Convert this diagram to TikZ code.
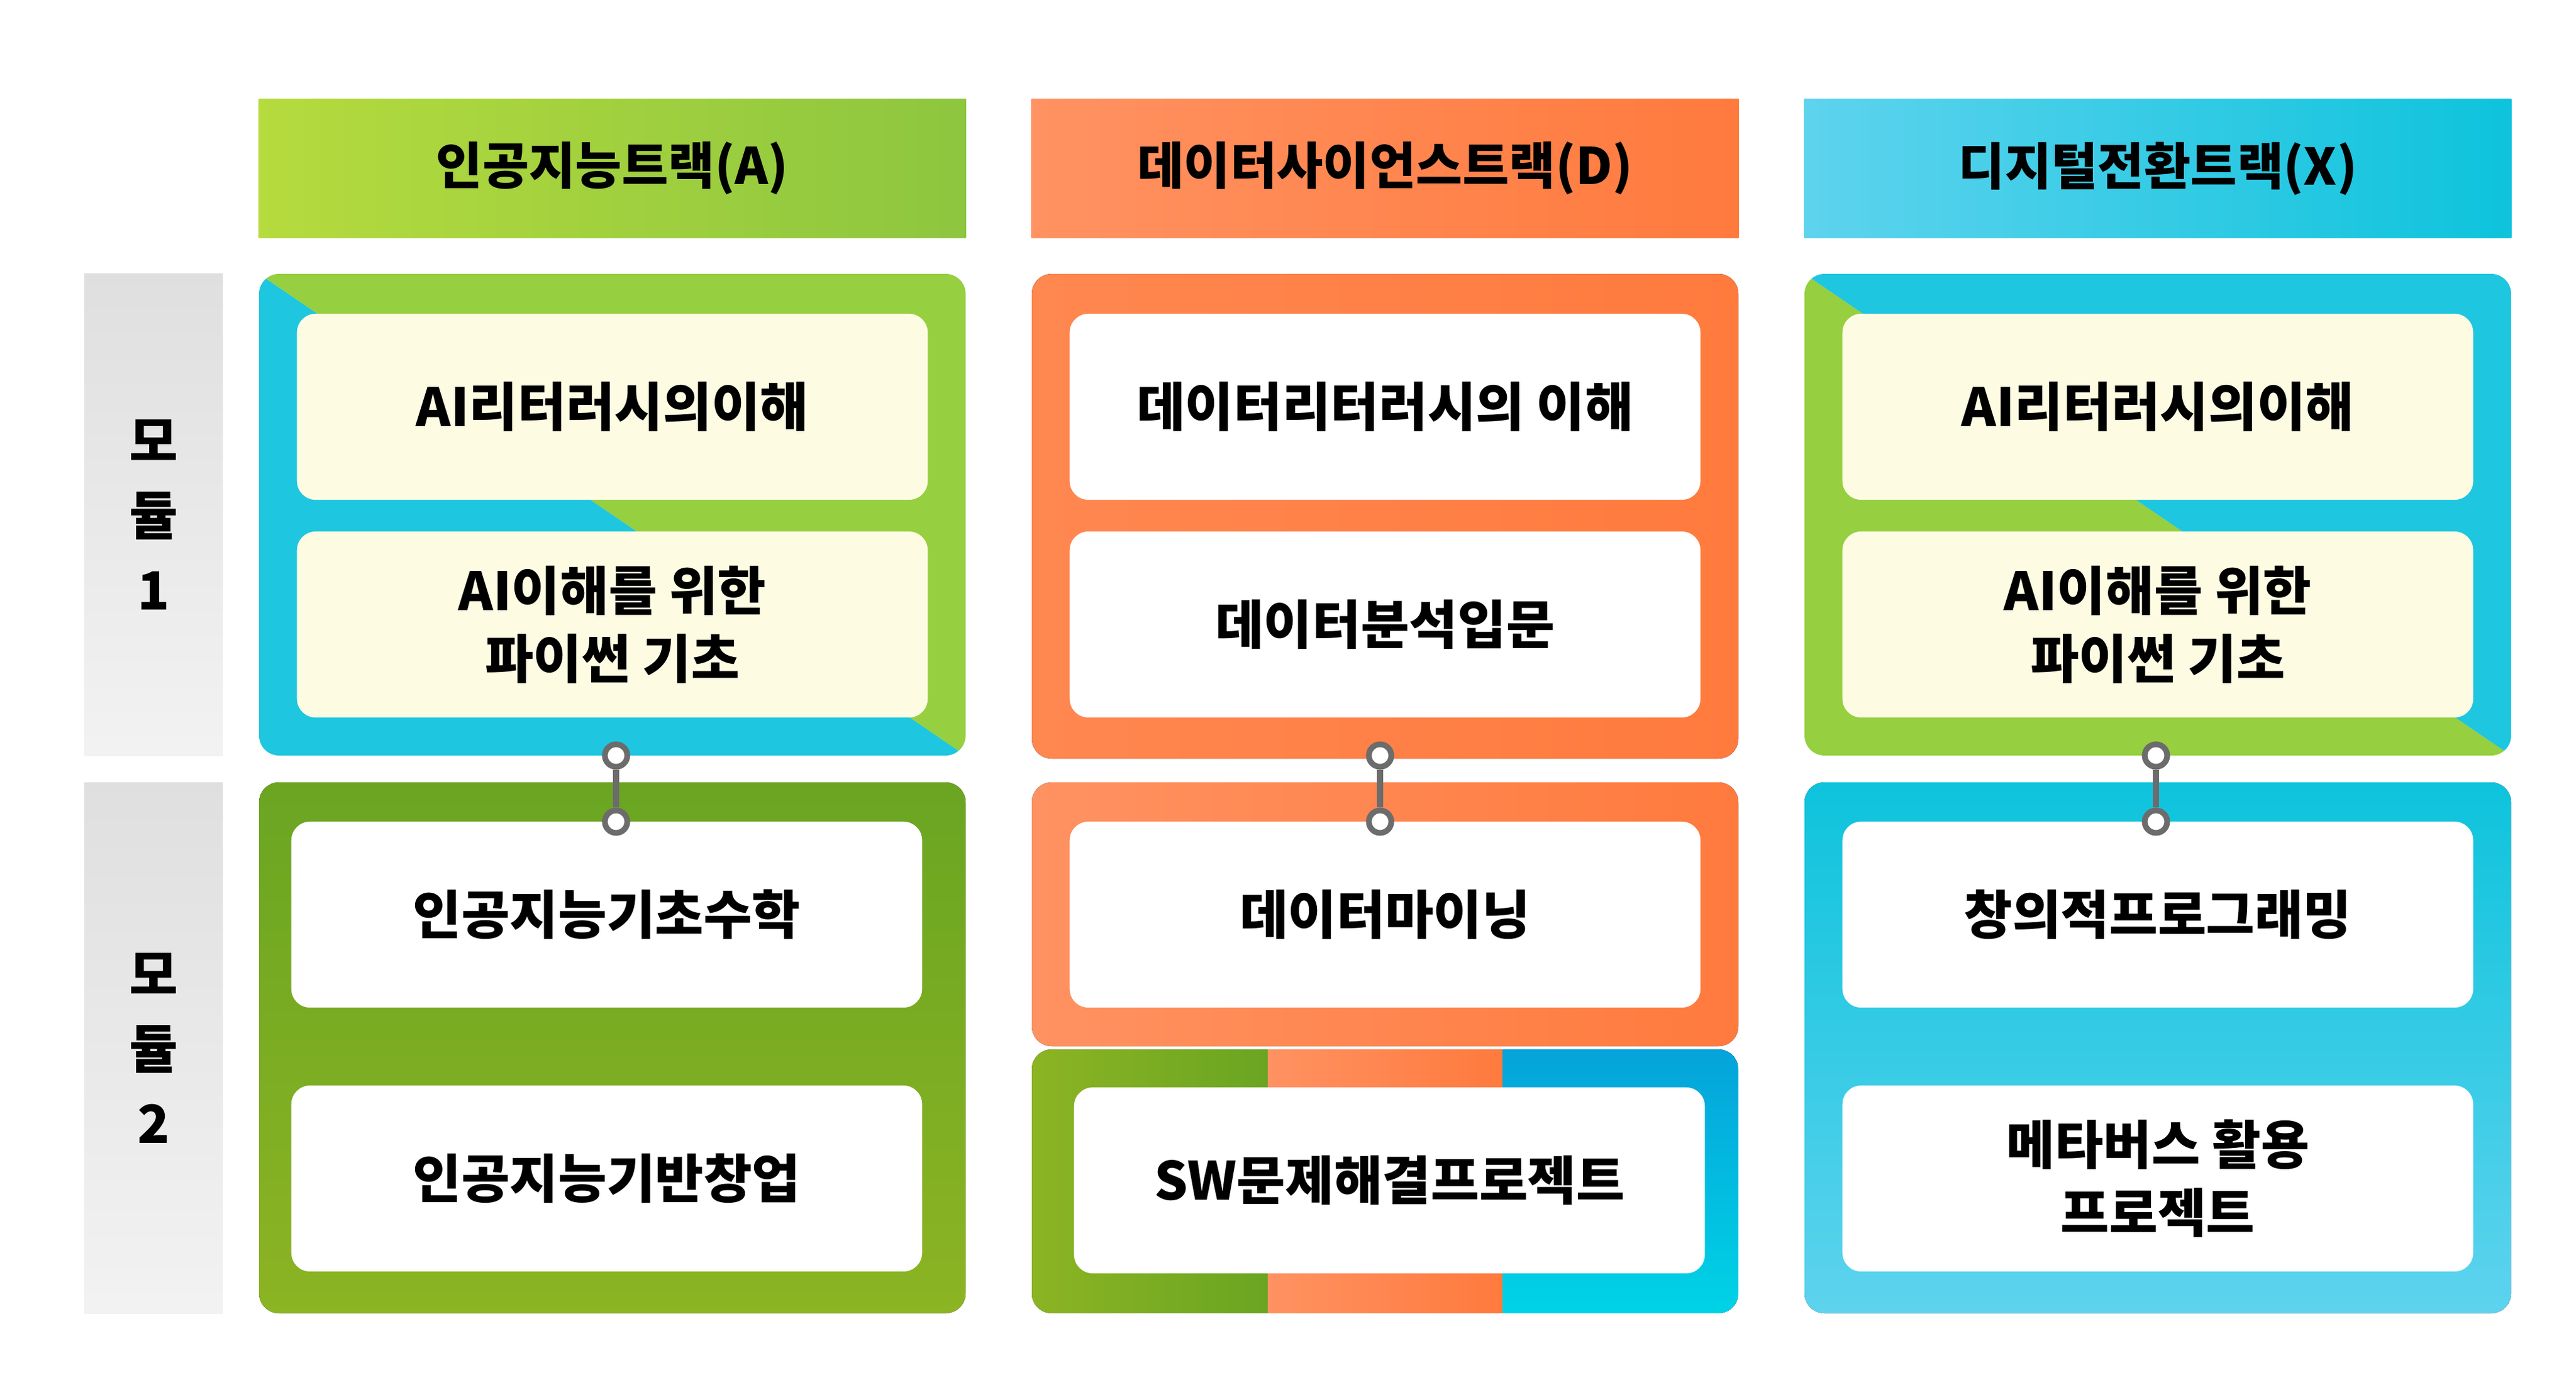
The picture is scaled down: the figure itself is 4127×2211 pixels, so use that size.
\documentclass[tikz,border=0pt]{standalone}
\usepackage{fontspec}
\setmainfont{Noto Sans CJK KR}
\begin{document}
\begin{tikzpicture}[x=0.01cm,y=-0.01cm,
  hdr/.style={rectangle,minimum width=11.32cm,minimum height=2.22cm,font=\fontsize{23}{28}\selectfont\bfseries},
  modlbl/.style={rectangle,minimum width=2.22cm,top color=gray!25,bottom color=gray!10,align=center,font=\fontsize{24}{34}\selectfont\bfseries},
  inbox/.style={rectangle,rounded corners=0.3cm,minimum width=10.1cm,minimum height=2.98cm,align=center,font=\fontsize{24}{31}\selectfont\bfseries},
  knob/.style={circle,draw=gray!85!black,fill=white,line width=2.6pt,minimum size=0.36cm,inner sep=0pt},
  link/.style={draw=gray!85!black,line width=3pt}]
\definecolor{gA1}{HTML}{B5DB3E}\definecolor{gA2}{HTML}{8DC63F}
\definecolor{oD1}{HTML}{FF9262}\definecolor{oD2}{HTML}{FF7A3D}
\definecolor{bX1}{HTML}{5ED3EE}\definecolor{bX2}{HTML}{0EC3DC}
\definecolor{blu}{HTML}{1EC6E0}\definecolor{grn}{HTML}{96CF3F}
\definecolor{dg1}{HTML}{8CB423}\definecolor{dg2}{HTML}{6AA522}
\definecolor{cream}{HTML}{FDFCE3}
\definecolor{db1}{HTML}{00D3E6}\definecolor{db2}{HTML}{05A3DA}
\useasboundingbox (0,0) rectangle (4127,2211);
% headers
\node[hdr,left color=gA1,right color=gA2] (hA) at (981,270) {인공지능트랙(A)};
\node[hdr,left color=oD1,right color=oD2] (hD) at (2219,270) {데이터사이언스트랙(D)};
\node[hdr,left color=bX1,right color=bX2] (hX) at (3457,270) {디지털전환트랙(X)};
% module labels
\node[modlbl,minimum height=7.72cm] (m1) at (246,825) {모\\듈\\1};
\node[modlbl,minimum height=8.51cm] (m2) at (246,1680) {모\\듈\\2};
% column A module 1
\begin{scope}
\clip[rounded corners=0.32cm] (415,439) rectangle (1547,1211);
\fill[blu] (415,439) -- (1547,1211) -- (415,1211) -- cycle;
\fill[grn] (415,439) -- (1547,439) -- (1547,1211) -- cycle;
\end{scope}
% column X module 1
\begin{scope}
\clip[rounded corners=0.32cm] (2891,439) rectangle (4023,1211);
\fill[grn] (2891,439) -- (4023,1211) -- (2891,1211) -- cycle;
\fill[blu] (2891,439) -- (4023,439) -- (4023,1211) -- cycle;
\end{scope}
% column D module 1
\fill[rounded corners=0.32cm,left color=oD2!90!white,right color=oD2] (1653,439) rectangle (2785,1216);
% module 2 backgrounds
\fill[rounded corners=0.32cm,shading angle=45,shade,bottom color=dg1,top color=dg2] (415,1254) rectangle (1547,2105);
\fill[rounded corners=0.32cm,left color=oD1,right color=oD2] (1653,1254) rectangle (2785,1677);
\begin{scope}
\clip[rounded corners=0.32cm] (1653,1682) rectangle (2785,2105);
\fill[left color=dg1,right color=dg2] (1653,1682) rectangle (2031,2105);
\fill[left color=oD1,right color=oD2] (2031,1682) rectangle (2407,2105);
\fill[bottom color=db1,top color=db2] (2407,1682) rectangle (2785,2105);
\end{scope}
\fill[rounded corners=0.32cm,bottom color=bX1,top color=bX2] (2891,1254) rectangle (4023,2105);
% inner boxes
\node[inbox,fill=cream] (a1) at (981,652) {AI리터러시의이해};
\node[inbox,fill=cream] (a2) at (981,1001) {AI이해를 위한\\파이썬 기초};
\node[inbox,fill=white] (a3) at (972,1466) {인공지능기초수학};
\node[inbox,fill=white] (a4) at (972,1889) {인공지능기반창업};
\node[inbox,fill=white] (d1) at (2219,652) {데이터리터러시의 이해};
\node[inbox,fill=white] (d2) at (2219,1001) {데이터분석입문};
\node[inbox,fill=white] (d3) at (2219,1466) {데이터마이닝};
\node[inbox,fill=white] (d4) at (2226,1892) {SW문제해결프로젝트};
\node[inbox,fill=cream] (x1) at (3457,652) {AI리터러시의이해};
\node[inbox,fill=cream] (x2) at (3457,1001) {AI이해를 위한\\파이썬 기초};
\node[inbox,fill=white] (x3) at (3457,1466) {창의적프로그래밍};
\node[inbox,fill=white] (x4) at (3457,1889) {메타버스 활용\\프로젝트};
% connectors
\foreach \c/\xx in {A/987,D/2211,X/3454}{
  \node[knob] (t\c) at (\xx,1211) {};
  \node[knob] (b\c) at (\xx,1317) {};
  \draw[link] (t\c) -- (b\c);
}
\end{tikzpicture}
\end{document}
